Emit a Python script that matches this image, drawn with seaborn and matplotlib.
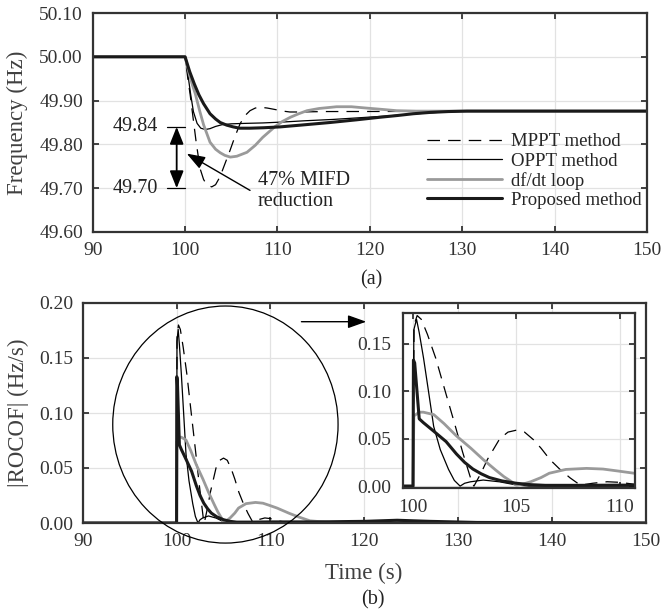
import numpy as np
import pandas as pd
import matplotlib
matplotlib.use("Agg")
import matplotlib.pyplot as plt
import seaborn as sns
from matplotlib.patches import Ellipse
from matplotlib.ticker import FormatStrFormatter

# ---------------- data ----------------
series_names = ["MPPT method", "OPPT method", "df/dt loop", "Proposed method"]

# (a) frequency (Hz)
t_f_mppt = [90, 100, 100.3, 100.54, 100.9, 101.2, 101.62, 102.0, 102.34, 102.88, 103.3, 103.78,
            104.3, 104.86, 105.4, 105.95, 106.5, 107.03, 107.6, 108.1, 108.9, 109.9, 110.6, 111.35,
            112.5, 115, 150]
f_mppt = [50.0, 50.0, 49.95, 49.915, 49.855, 49.805, 49.745, 49.72, 49.708, 49.703, 49.708, 49.726,
          49.755, 49.786, 49.818, 49.847, 49.866, 49.877, 49.883, 49.885, 49.883, 49.879, 49.876, 49.874,
          49.874, 49.875, 49.876]

t_f_oppt = [90, 100, 100.3, 100.6, 100.9, 101.3, 101.7, 102.2, 102.7, 103.3, 104.0, 105, 106.5, 108.4,
            110.5, 113, 116, 119, 122, 125, 128, 130.5, 150]
f_oppt = [50.0, 50.0, 49.96, 49.915, 49.875, 49.848, 49.837, 49.834, 49.836, 49.841, 49.845, 49.847,
          49.848, 49.849, 49.851, 49.854, 49.857, 49.861, 49.865, 49.870, 49.874, 49.876, 49.876]

t_f_dfdt = [90, 100, 100.4, 100.8, 101.1, 101.6, 102.0, 102.7, 103.3, 103.8, 104.3, 104.9, 105.6, 106.7,
            107.6, 108.4, 109.7, 110.5, 111.4, 112.3, 113.2, 114.5, 116.4, 118, 119.6, 121.3, 122.9,
            125, 127, 150]
f_dfdt = [50.0, 50.0, 49.965, 49.935, 49.916, 49.875, 49.845, 49.805, 49.789, 49.781, 49.775, 49.771,
          49.773, 49.782, 49.798, 49.816, 49.840, 49.852, 49.862, 49.870, 49.877, 49.882, 49.886, 49.886,
          49.883, 49.880, 49.877, 49.876, 49.876, 49.876]

t_f_prop = [90, 100, 100.5, 101.0, 101.5, 102.0, 102.7, 103.3, 103.8, 104.5, 105.2, 105.9, 107, 108.5,
            110.3, 112.5, 115.7, 118.5, 121.1, 123, 124.7, 126.5, 128.5, 130.5, 150]
f_prop = [50.0, 50.0, 49.966, 49.938, 49.913, 49.893, 49.870, 49.858, 49.850, 49.844, 49.840, 49.837,
          49.837, 49.838, 49.840, 49.844, 49.850, 49.856, 49.862, 49.866, 49.870, 49.873, 49.875, 49.876,
          49.876]

# (b) |ROCOF| (Hz/s)
t_r_mppt = [90, 100, 100.05, 100.2, 100.4, 100.7, 101.1, 101.6, 102.0, 102.4, 102.85, 102.95, 103.3,
            103.6, 104.2, 104.6, 105.0, 105.4, 105.83, 106.2, 106.63, 107.1, 107.6, 108.1, 108.7,
            109.4, 110.0, 110.7, 111.5, 113, 150]
r_mppt = [0, 0, 0.17, 0.18, 0.176, 0.16, 0.135, 0.097, 0.067, 0.036, 0.004, 0.0, 0.014,
          0.028, 0.05, 0.057, 0.059, 0.057, 0.049, 0.04, 0.028, 0.018, 0.0088, 0.001, 0.003,
          0.0046, 0.004, 0.002, 0.001, 0.0, 0.0]

t_r_oppt = [90, 100, 100.04, 100.17, 100.3, 100.51, 100.75, 101.0, 101.32, 101.72, 102.0, 102.28, 102.5,
            102.77, 103.4, 104.2, 105.0, 105.6, 106.5, 110, 118, 123, 128, 150]
r_oppt = [0, 0, 0.165, 0.176, 0.162, 0.135, 0.10, 0.063, 0.0385, 0.0176, 0.006, 0.0, 0.003,
          0.0045, 0.0064, 0.0045, 0.0012, 0.0, 0.0, 0.0, 0.0005, 0.002, 0.0005, 0.0]

t_r_dfdt = [90, 100, 100.04, 100.3, 100.5, 101.0, 101.5, 102.1, 102.8, 103.4, 104.0, 104.4, 104.75,
            105.0, 105.3, 105.7, 106.2, 106.6, 107.4, 108.4, 109.2, 109.9, 110.7, 112.0, 113.0,
            114.2, 115.6, 117, 150]
r_dfdt = [0, 0, 0.074, 0.078, 0.078, 0.0755, 0.066, 0.053, 0.040, 0.028, 0.017, 0.010, 0.005,
          0.001, 0.002, 0.0046, 0.009, 0.0136, 0.0176, 0.0187, 0.018, 0.016, 0.0136, 0.0088, 0.0055,
          0.002, 0.001, 0.0, 0.0]

t_r_prop = [90, 100, 100.02, 100.08, 100.3, 100.5, 101.0, 101.6, 102.1, 102.5, 102.9, 103.3, 103.7,
            104.3, 105.0, 105.7, 106.4, 108, 110, 115, 120, 123.5, 127, 132, 150]
r_prop = [0, 0, 0.133, 0.130, 0.071, 0.067, 0.058, 0.047, 0.034, 0.025, 0.018, 0.013, 0.009,
          0.0055, 0.003, 0.0015, 0.0008, 0.0008, 0.001, 0.001, 0.0015, 0.0025, 0.0015, 0.0005, 0]

freq_ticks = [49.60, 49.70, 49.80, 49.90, 50.00, 50.10]
rocof_ticks = [0.00, 0.05, 0.10, 0.15, 0.20]
time_ticks = [90, 100, 110, 120, 130, 140, 150]
inset_xticks = [100, 105, 110]
inset_yticks = [0.00, 0.05, 0.10, 0.15]

# annotation values
mifd_levels = [49.84, 49.70]
mifd_text = "47% MIFD\nreduction"

# ---------------- styling ----------------
styles = {
    "MPPT method": dict(color="black", linewidth=0.9, linestyle=(0, (10, 6.5))),
    "OPPT method": dict(color="black", linewidth=0.9, linestyle="-"),
    "df/dt loop": dict(color="#9a9a9a", linewidth=2.0, linestyle="-"),
    "Proposed method": dict(color="#1a1a1a", linewidth=2.2, linestyle="-"),
}

freq_df = pd.concat([
    pd.DataFrame({"t": t, "v": v, "s": n}) for n, t, v in zip(
        series_names, [t_f_mppt, t_f_oppt, t_f_dfdt, t_f_prop], [f_mppt, f_oppt, f_dfdt, f_prop])
])
rocof_df = pd.concat([
    pd.DataFrame({"t": t, "v": v, "s": n}) for n, t, v in zip(
        series_names, [t_r_mppt, t_r_oppt, t_r_dfdt, t_r_prop], [r_mppt, r_oppt, r_dfdt, r_prop])
])

sns.set_style("ticks")
plt.rcParams["font.family"] = ["Liberation Serif", "DejaVu Serif"]

W, H = 663, 616
fig = plt.figure(figsize=(W / 100, H / 100), dpi=100)


def rect(l, t, r, b):
    return [l / W, 1 - b / H, (r - l) / W, (b - t) / H]


ax1 = fig.add_axes(rect(92.7, 13, 647, 232))
ax2 = fig.add_axes(rect(82.7, 303, 646, 523))
ax3 = fig.add_axes(rect(402.7, 312.7, 635, 488))

TXT = "#333333"


def style_ax(ax, fs=14):
    ax.set_facecolor("white")
    for s in ax.spines.values():
        s.set_visible(True)
        s.set_color("#333333")
        s.set_linewidth(1.6)
    ax.tick_params(direction="in", length=4, width=1.3, color="#333333", top=True, right=True,
                   labelsize=fs, labelcolor=TXT, pad=7)
    ax.grid(True, color="#e2e2e2", linewidth=0.9)
    ax.set_axisbelow(True)
    ax.set_xlabel("")
    ax.set_ylabel("")


def draw(ax, df, label=True):
    for n in series_names:
        sub = df[df["s"] == n]
        sns.lineplot(data=sub, x="t", y="v", ax=ax, estimator=None, sort=False,
                     label=n if label else None, legend=False, **styles[n])


ARROW = "-|>,head_length=0.7,head_width=0.25"
DARROW = "<|-|>,head_length=0.7,head_width=0.28"

# ---- (a) ----
draw(ax1, freq_df, label=True)
style_ax(ax1)
ax1.set_xlim(90, 150)
ax1.set_ylim(49.6, 50.1)
ax1.set_xticks(time_ticks)
ax1.set_yticks(freq_ticks)
ax1.yaxis.set_major_formatter(FormatStrFormatter("%.2f"))

ax1.legend(loc="upper left", bbox_to_anchor=(0.603, 0.452), frameon=False, fontsize=13.5,
           handlelength=4.0, handletextpad=0.5, labelspacing=0.12, borderpad=0, borderaxespad=0)

for lv in mifd_levels:
    ax1.text(97.07, lv, f"{lv:.2f}", ha="right", va="center", fontsize=14.5, color="#222222")
    ax1.plot([98.04, 100.0], [lv, lv], color="black", lw=0.9)
ax1.annotate("", xy=(99.09, mifd_levels[1]), xytext=(99.09, mifd_levels[0]),
             arrowprops=dict(arrowstyle=DARROW, color="black", lw=1.3, mutation_scale=15,
                             shrinkA=0, shrinkB=0))
ax1.annotate("", xy=(100.18, 49.779), xytext=(107.03, 49.695),
             arrowprops=dict(arrowstyle=ARROW, color="black", lw=1.0, mutation_scale=16,
                             shrinkA=0, shrinkB=0))
ax1.text(107.87, 49.694, mifd_text, ha="left", va="center", fontsize=14.5, color="#222222",
         linespacing=1.15)

# ---- (b) ----
draw(ax2, rocof_df, label=False)
style_ax(ax2)
ax2.set_xlim(90, 150)
ax2.set_ylim(0, 0.2)
ax2.set_xticks(time_ticks)
ax2.set_yticks(rocof_ticks)
ax2.yaxis.set_major_formatter(FormatStrFormatter("%.2f"))

circ = Ellipse((105.2, 0.0895), 24.0, 0.2155, fill=False, ec="black", lw=0.9, clip_on=False, zorder=5)
ax2.add_patch(circ)
ax2.annotate("", xy=(120.2, 0.183), xytext=(113.3, 0.183),
             arrowprops=dict(arrowstyle=ARROW, color="black", lw=1.0, mutation_scale=16,
                             shrinkA=0, shrinkB=0))

# ---- inset ----
draw(ax3, rocof_df, label=False)
style_ax(ax3)
ax3.set_xlim(99.5, 110.75)
ax3.set_ylim(-0.002, 0.183)
ax3.set_xticks(inset_xticks)
ax3.set_yticks(inset_yticks)
ax3.yaxis.set_major_formatter(FormatStrFormatter("%.2f"))
ax3.tick_params(pad=8)

# ---- labels ----
fig.text(17 / W, 1 - 122.5 / H, "Frequency (Hz)", rotation=90, ha="center", va="center",
         fontsize=16.5, color="#404040")
fig.text(18 / W, 1 - 413 / H, "|ROCOF| (Hz/s)", rotation=90, ha="center", va="center",
         fontsize=16.5, color="#404040")
fig.text(364 / W, 1 - 573 / H, "Time (s)", ha="center", va="center", fontsize=16.5, color="#404040")
fig.text(371.7 / W, 1 - 280 / H, "(a)", ha="center", va="center", fontsize=14.5, color="#222222")
fig.text(372.5 / W, 1 - 600 / H, "(b)", ha="center", va="center", fontsize=14.5, color="#222222")

fig.savefig("out.png", dpi=100)
